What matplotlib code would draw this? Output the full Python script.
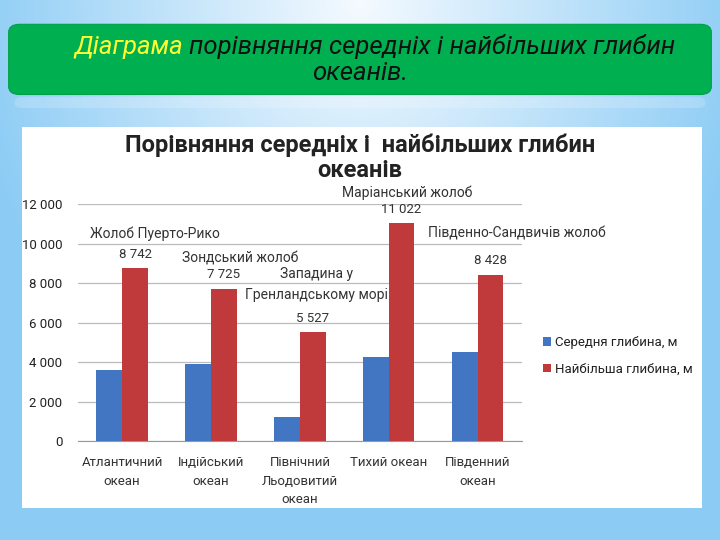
import numpy as np
import matplotlib.pyplot as plt
from matplotlib.patches import FancyBboxPatch, Rectangle
from matplotlib.ticker import FuncFormatter

plt.rcParams['font.family'] = ['Roboto', 'DejaVu Sans']

# data
oceans = ['Атлантичний\nокеан', 'Індійський\nокеан', 'Північний\nЛьодовитий\nокеан',
          'Тихий океан', 'Південний\nокеан']
mean_depth = [3600, 3900, 1225, 4280, 4500]
max_depth = [8742, 7725, 5527, 11022, 8428]
trenches = ['Жолоб Пуерто-Рико', 'Зондський жолоб', 'Западина у\nГренландському морі',
            'Маріанський жолоб', 'Південно-Сандвичів жолоб']
yticks = [0, 2000, 4000, 6000, 8000, 10000, 12000]

# name label offsets (points) from top of red bar
name_off = [(14, 25), (12, 22), (3, 34), (4, 22), (19, 30)]

fig = plt.figure(figsize=(7.2, 5.4), dpi=100)

# background gradient
bg = fig.add_axes([0, 0, 1, 1], zorder=-10)
xx, yy = np.meshgrid(np.linspace(-1, 1, 300), np.linspace(0, 1, 300))
d = np.clip(np.sqrt((xx / 1.1) ** 2 + (yy * 1.2) ** 2), 0, 1)
c0 = np.array([0.96, 0.98, 1.0])
c1 = np.array([0.55, 0.80, 0.96])
img = c0[None, None, :] * (1 - d[..., None]) + c1[None, None, :] * d[..., None]
bg.imshow(img, extent=[0, 1, 0, 1], aspect='auto', origin='upper')
bg.set_xlim(0, 1)
bg.set_ylim(0, 1)
bg.axis('off')

# green banner
banner = FancyBboxPatch((0.012, 0.825), 0.976, 0.13, boxstyle='round,pad=0,rounding_size=0.015',
                        transform=fig.transFigure, facecolor='#00b050', edgecolor='#00a048',
                        lw=0.8, zorder=1)
fig.patches.append(banner)
fig.patches.append(FancyBboxPatch((0.02, 0.80), 0.96, 0.02,
                                  boxstyle='round,pad=0,rounding_size=0.01',
                                  transform=fig.transFigure, facecolor='white', alpha=0.18,
                                  edgecolor='none', zorder=1))
t1 = fig.text(0.104, 0.913, 'Діаграма', color='#ffff33', fontsize=18.5, style='italic',
              ha='left', va='center', zorder=2)
fig.canvas.draw()
bb = t1.get_window_extent()
fig.text(bb.x1 / fig.bbox.width + 0.008, 0.913, 'порівняння середніх і найбільших глибин',
         color='#111111', fontsize=18.5, style='italic', ha='left', va='center', zorder=2)
fig.text(0.5, 0.865, 'океанів.', color='#111111', fontsize=18.5, style='italic',
         ha='center', va='center', zorder=2)

# white chart area
fig.patches.append(Rectangle((0.031, 0.06), 0.944, 0.705, transform=fig.transFigure,
                             facecolor='white', edgecolor='none', zorder=1))

fig.text(0.5, 0.708, 'Порівняння середніх і  найбільших глибин\nокеанів', ha='center',
         va='center', fontsize=17, fontweight='bold', color='#222222', linespacing=1.15, zorder=3)

ax = fig.add_axes([0.108, 0.183, 0.617, 0.439], zorder=3)
ax.patch.set_alpha(0)
x = np.arange(len(oceans))
w = 0.29
blue = '#4275c2'
red = '#c0393b'
ax.bar(x - w / 2, mean_depth, w, color=blue, label='Середня глибина, м', zorder=3)
bars = ax.bar(x + w / 2, max_depth, w, color=red, label='Найбільша глибина, м', zorder=3)

ax.set_xlim(-0.5, len(oceans) - 0.5)
ax.set_ylim(0, 12000)
ax.set_yticks(yticks)
ax.yaxis.set_major_formatter(FuncFormatter(lambda v, p: f'{int(v):,}'.replace(',', ' ')))
ax.set_xticks(x)
ax.set_xticklabels(oceans, fontsize=9.5, color='#333333', linespacing=1.55)
ax.tick_params(axis='y', labelsize=9.5, labelcolor='#222222', length=0, pad=11)
ax.tick_params(axis='x', length=0, pad=11)
ax.grid(axis='y', color='#bbbbbb', lw=0.9, zorder=0)
for s in ['left', 'right', 'top']:
    ax.spines[s].set_visible(False)
ax.spines['bottom'].set_color('#999999')

for i, b in enumerate(bars):
    cx = b.get_x() + b.get_width() / 2
    ax.annotate(f'{max_depth[i]:,}'.replace(',', ' '), (cx, max_depth[i]), xytext=(0, 10),
                textcoords='offset points', ha='center', va='center', fontsize=9.5,
                color='#333333', zorder=4)
    dx, dy = name_off[i]
    ax.annotate(trenches[i], (cx, max_depth[i]), xytext=(dx, dy), textcoords='offset points',
                ha='center', va='center', fontsize=10, color='#333333', linespacing=1.6,
                zorder=4)

ax.legend(loc='center left', bbox_to_anchor=(1.02, 0.36), frameon=False, fontsize=9.5,
          handlelength=0.6, handleheight=0.6, handletextpad=0.3, labelspacing=1.0,
          labelcolor='#222222')

fig.savefig('out.png', dpi=100)
